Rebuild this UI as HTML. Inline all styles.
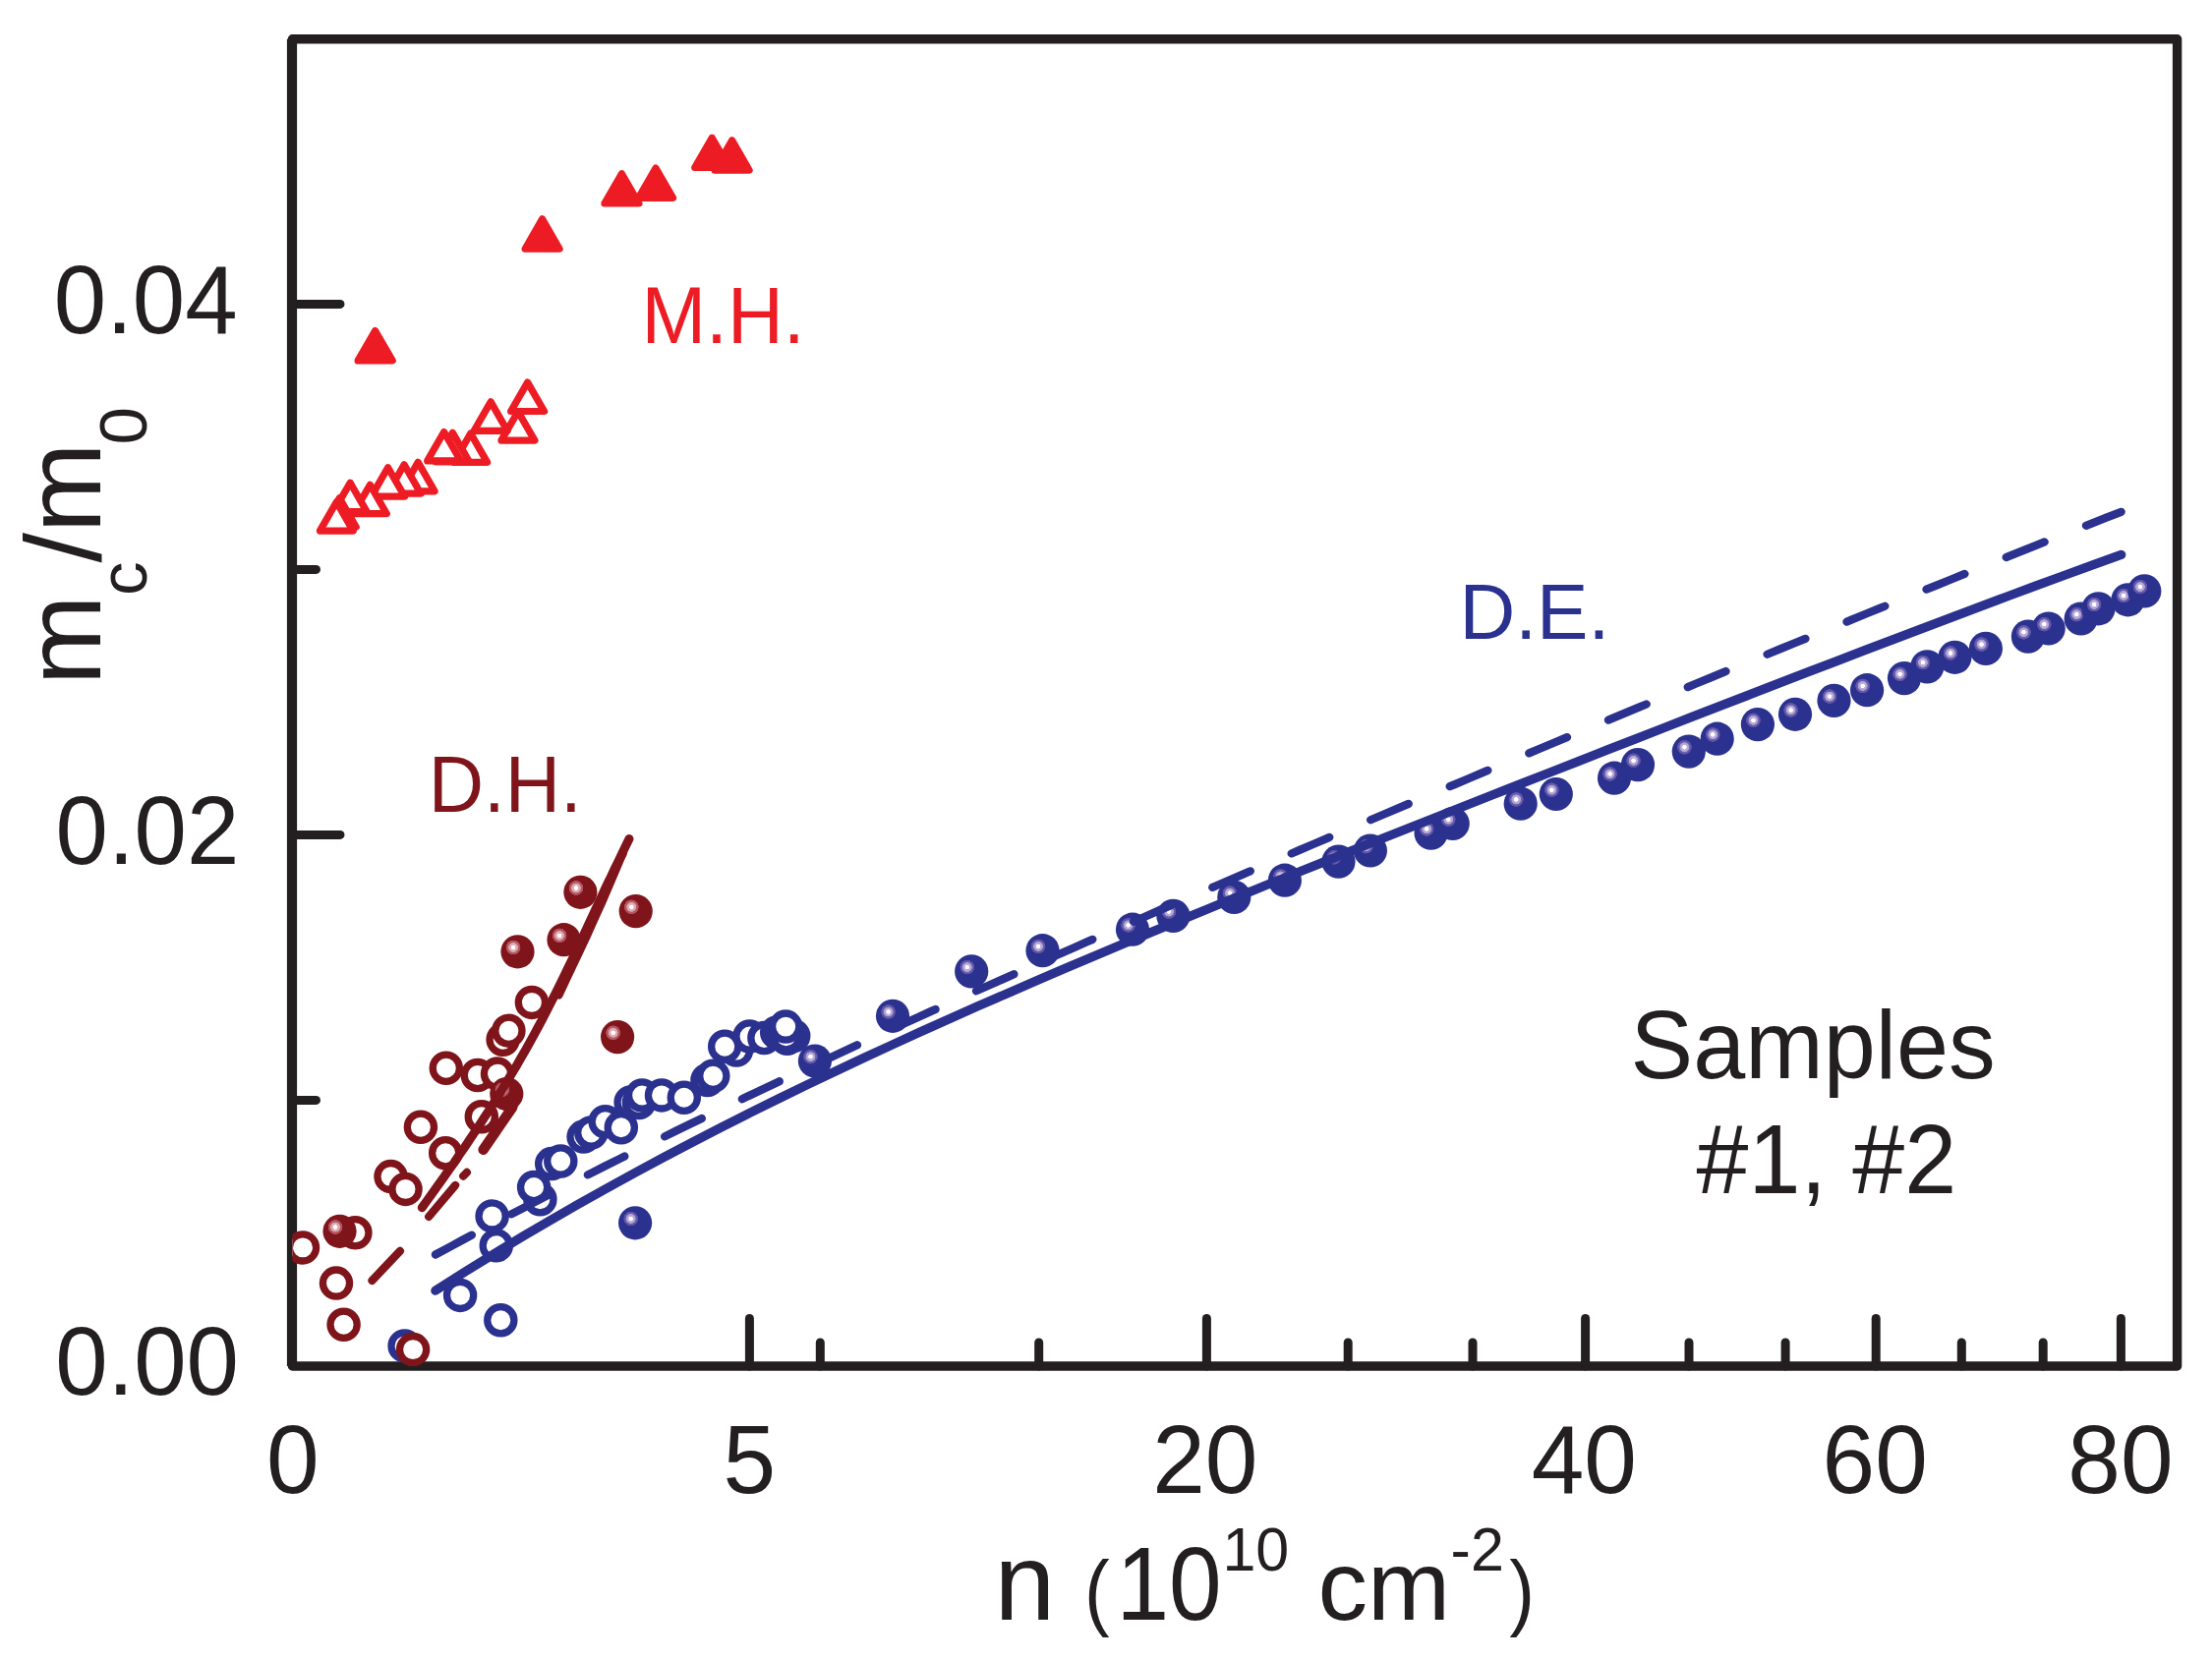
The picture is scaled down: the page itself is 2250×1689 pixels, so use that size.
<!DOCTYPE html>
<html><head><meta charset="utf-8"><title>Cyclotron mass vs density</title>
<style>html,body{margin:0;padding:0;background:#fff}svg{display:block}text{font-family:"Liberation Sans",sans-serif}</style></head><body>
<svg width="2250" height="1689" viewBox="0 0 2250 1689">
<defs>
<radialGradient id="gb" cx="0.371" cy="0.374" r="0.22" fx="0.371" fy="0.374"><stop offset="0" stop-color="#fff"/><stop offset="0.27" stop-color="#fff"/><stop offset="0.32" stop-color="#bfb3dc"/><stop offset="0.62" stop-color="#aa9dd0"/><stop offset="0.68" stop-color="#6e62b0"/><stop offset="0.95" stop-color="#5a50a4"/><stop offset="1" stop-color="#2b318e"/></radialGradient>
<radialGradient id="gr" cx="0.371" cy="0.374" r="0.22" fx="0.371" fy="0.374"><stop offset="0" stop-color="#fff"/><stop offset="0.27" stop-color="#fff"/><stop offset="0.32" stop-color="#e3b7bd"/><stop offset="0.62" stop-color="#d9a0a8"/><stop offset="0.68" stop-color="#b85c68"/><stop offset="0.95" stop-color="#b04f5c"/><stop offset="1" stop-color="#7f151a"/></radialGradient>
<clipPath id="cp"><rect x="297.4" y="39.8" width="1917.2" height="1350.2"/></clipPath>
</defs>
<rect width="2250" height="1689" fill="#fff"/>
<rect x="297.4" y="39.8" width="1917.2" height="1350.2" fill="none" stroke="#231f20" stroke-width="9.4" stroke-linejoin="round"/>
<line x1="296.95" y1="39.8" x2="296.95" y2="1390.0" stroke="#231f20" stroke-width="10.1"/>
<g stroke="#231f20" stroke-width="9.0" stroke-linecap="round">
<line x1="297.4" y1="309.4" x2="346.0" y2="309.4"/>
<line x1="297.4" y1="849.4" x2="346.0" y2="849.4"/>
<line x1="297.4" y1="579.4" x2="321.5" y2="579.4"/>
<line x1="297.4" y1="1119.4" x2="321.5" y2="1119.4"/>
<line x1="762.4" y1="1390.0" x2="762.4" y2="1341.5"/>
<line x1="1227.4" y1="1390.0" x2="1227.4" y2="1341.5"/>
<line x1="1612.6" y1="1390.0" x2="1612.6" y2="1341.5"/>
<line x1="1908.2" y1="1390.0" x2="1908.2" y2="1341.5"/>
<line x1="2157.4" y1="1390.0" x2="2157.4" y2="1341.5"/>
<line x1="834.3" y1="1390.0" x2="834.3" y2="1366.0"/>
<line x1="1056.7" y1="1390.0" x2="1056.7" y2="1366.0"/>
<line x1="1371.2" y1="1390.0" x2="1371.2" y2="1366.0"/>
<line x1="1498.0" y1="1390.0" x2="1498.0" y2="1366.0"/>
<line x1="1718.0" y1="1390.0" x2="1718.0" y2="1366.0"/>
<line x1="1816.1" y1="1390.0" x2="1816.1" y2="1366.0"/>
<line x1="1995.3" y1="1390.0" x2="1995.3" y2="1366.0"/>
<line x1="2078.2" y1="1390.0" x2="2078.2" y2="1366.0"/>
</g>
<g clip-path="url(#cp)">
<g id="red-tri">
<path d="M381.6,336.6 L399.2,366.9 L364.1,366.9 Z" fill="#ed1c24" stroke="#ed1c24" stroke-width="7.2" stroke-linejoin="round"/>
<path d="M551.6,222.9 L569.1,253.2 L534.1,253.2 Z" fill="#ed1c24" stroke="#ed1c24" stroke-width="7.2" stroke-linejoin="round"/>
<path d="M632.4,176.7 L649.9,207.0 L614.9,207.0 Z" fill="#ed1c24" stroke="#ed1c24" stroke-width="7.2" stroke-linejoin="round"/>
<path d="M667.0,171.1 L684.5,201.4 L649.5,201.4 Z" fill="#ed1c24" stroke="#ed1c24" stroke-width="7.2" stroke-linejoin="round"/>
<path d="M724.2,140.2 L741.8,170.5 L706.7,170.5 Z" fill="#ed1c24" stroke="#ed1c24" stroke-width="7.2" stroke-linejoin="round"/>
<path d="M744.6,142.9 L762.1,173.2 L727.1,173.2 Z" fill="#ed1c24" stroke="#ed1c24" stroke-width="7.2" stroke-linejoin="round"/>
<path d="M536.6,389.1 L553.6,418.5 L519.6,418.5 Z" fill="#fff" stroke="#ed1c24" stroke-width="7.2" stroke-linejoin="round"/>
<path d="M526.9,418.7 L543.9,448.1 L509.9,448.1 Z" fill="#fff" stroke="#ed1c24" stroke-width="7.2" stroke-linejoin="round"/>
<path d="M499.2,408.9 L516.1,438.3 L482.2,438.3 Z" fill="#fff" stroke="#ed1c24" stroke-width="7.2" stroke-linejoin="round"/>
<path d="M478.7,441.0 L495.6,470.4 L461.8,470.4 Z" fill="#fff" stroke="#ed1c24" stroke-width="7.2" stroke-linejoin="round"/>
<path d="M460.4,440.4 L477.3,469.8 L443.4,469.8 Z" fill="#fff" stroke="#ed1c24" stroke-width="7.2" stroke-linejoin="round"/>
<path d="M451.6,439.5 L468.6,468.9 L434.7,468.9 Z" fill="#fff" stroke="#ed1c24" stroke-width="7.2" stroke-linejoin="round"/>
<path d="M425.2,470.4 L442.1,499.8 L408.2,499.8 Z" fill="#fff" stroke="#ed1c24" stroke-width="7.2" stroke-linejoin="round"/>
<path d="M411.1,472.8 L428.1,502.2 L394.2,502.2 Z" fill="#fff" stroke="#ed1c24" stroke-width="7.2" stroke-linejoin="round"/>
<path d="M394.6,475.7 L411.6,505.1 L377.7,505.1 Z" fill="#fff" stroke="#ed1c24" stroke-width="7.2" stroke-linejoin="round"/>
<path d="M376.4,493.3 L393.3,522.7 L359.4,522.7 Z" fill="#fff" stroke="#ed1c24" stroke-width="7.2" stroke-linejoin="round"/>
<path d="M356.2,491.2 L373.1,520.6 L339.2,520.6 Z" fill="#fff" stroke="#ed1c24" stroke-width="7.2" stroke-linejoin="round"/>
<path d="M345.3,506.8 L362.2,536.2 L328.4,536.2 Z" fill="#fff" stroke="#ed1c24" stroke-width="7.2" stroke-linejoin="round"/>
<path d="M342.3,510.7 L359.2,540.1 L325.4,540.1 Z" fill="#fff" stroke="#ed1c24" stroke-width="7.2" stroke-linejoin="round"/>
</g>
<g id="blue-pts">
<circle cx="411.6" cy="1369.4" r="13.6" fill="#fff" stroke="#2b318e" stroke-width="7.3"/>
<circle cx="468.1" cy="1317.9" r="13.6" fill="#fff" stroke="#2b318e" stroke-width="7.3"/>
<circle cx="509.3" cy="1343.2" r="13.6" fill="#fff" stroke="#2b318e" stroke-width="7.3"/>
<circle cx="504.8" cy="1267.3" r="13.6" fill="#fff" stroke="#2b318e" stroke-width="7.3"/>
<circle cx="500.6" cy="1237.4" r="13.6" fill="#fff" stroke="#2b318e" stroke-width="7.3"/>
<circle cx="549.4" cy="1220.3" r="13.6" fill="#fff" stroke="#2b318e" stroke-width="7.3"/>
<circle cx="543.1" cy="1208.0" r="13.6" fill="#fff" stroke="#2b318e" stroke-width="7.3"/>
<circle cx="561.2" cy="1184.1" r="13.6" fill="#fff" stroke="#2b318e" stroke-width="7.3"/>
<circle cx="570.3" cy="1181.5" r="13.6" fill="#fff" stroke="#2b318e" stroke-width="7.3"/>
<circle cx="593.6" cy="1156.6" r="13.6" fill="#fff" stroke="#2b318e" stroke-width="7.3"/>
<circle cx="601.3" cy="1152.5" r="13.6" fill="#fff" stroke="#2b318e" stroke-width="7.3"/>
<circle cx="615.7" cy="1141.2" r="13.6" fill="#fff" stroke="#2b318e" stroke-width="7.3"/>
<circle cx="631.8" cy="1147.3" r="13.6" fill="#fff" stroke="#2b318e" stroke-width="7.3"/>
<circle cx="641.6" cy="1121.4" r="13.6" fill="#fff" stroke="#2b318e" stroke-width="7.3"/>
<circle cx="649.9" cy="1122.0" r="13.6" fill="#fff" stroke="#2b318e" stroke-width="7.3"/>
<circle cx="653.1" cy="1114.5" r="13.6" fill="#fff" stroke="#2b318e" stroke-width="7.3"/>
<circle cx="673.0" cy="1114.4" r="13.6" fill="#fff" stroke="#2b318e" stroke-width="7.3"/>
<circle cx="695.8" cy="1116.8" r="13.6" fill="#fff" stroke="#2b318e" stroke-width="7.3"/>
<circle cx="719.5" cy="1099.0" r="13.6" fill="#fff" stroke="#2b318e" stroke-width="7.3"/>
<circle cx="725.3" cy="1094.8" r="13.6" fill="#fff" stroke="#2b318e" stroke-width="7.3"/>
<circle cx="749.0" cy="1068.6" r="13.6" fill="#fff" stroke="#2b318e" stroke-width="7.3"/>
<circle cx="737.2" cy="1064.8" r="13.6" fill="#fff" stroke="#2b318e" stroke-width="7.3"/>
<circle cx="762.5" cy="1054.5" r="13.6" fill="#fff" stroke="#2b318e" stroke-width="7.3"/>
<circle cx="777.4" cy="1056.0" r="13.6" fill="#fff" stroke="#2b318e" stroke-width="7.3"/>
<circle cx="790.2" cy="1050.5" r="13.6" fill="#fff" stroke="#2b318e" stroke-width="7.3"/>
<circle cx="800.7" cy="1056.7" r="13.6" fill="#fff" stroke="#2b318e" stroke-width="7.3"/>
<circle cx="807.2" cy="1054.0" r="13.6" fill="#fff" stroke="#2b318e" stroke-width="7.3"/>
<circle cx="796.3" cy="1050.5" r="13.6" fill="#fff" stroke="#2b318e" stroke-width="7.3"/>
<circle cx="802.9" cy="1054.9" r="13.6" fill="#fff" stroke="#2b318e" stroke-width="7.3"/>
<circle cx="799.6" cy="1054.3" r="13.6" fill="#fff" stroke="#2b318e" stroke-width="7.3"/>
<circle cx="799.2" cy="1044.6" r="13.6" fill="#fff" stroke="#2b318e" stroke-width="7.3"/>
<circle cx="646.1" cy="1244.3" r="17.1" fill="url(#gb)"/>
<circle cx="828.9" cy="1079.5" r="17.1" fill="url(#gb)"/>
<circle cx="908.0" cy="1033.8" r="17.1" fill="url(#gb)"/>
<circle cx="988.2" cy="988.4" r="17.1" fill="url(#gb)"/>
<circle cx="1060.5" cy="967.2" r="17.1" fill="url(#gb)"/>
<circle cx="1152.0" cy="945.7" r="17.1" fill="url(#gb)"/>
<circle cx="1193.4" cy="931.9" r="17.1" fill="url(#gb)"/>
<circle cx="1255.3" cy="912.9" r="17.1" fill="url(#gb)"/>
<circle cx="1306.9" cy="895.7" r="17.1" fill="url(#gb)"/>
<circle cx="1361.5" cy="876.6" r="17.1" fill="url(#gb)"/>
<circle cx="1393.9" cy="865.5" r="17.1" fill="url(#gb)"/>
<circle cx="1455.6" cy="847.7" r="17.1" fill="url(#gb)"/>
<circle cx="1477.7" cy="838.0" r="17.1" fill="url(#gb)"/>
<circle cx="1546.7" cy="817.7" r="17.1" fill="url(#gb)"/>
<circle cx="1582.8" cy="808.0" r="17.1" fill="url(#gb)"/>
<circle cx="1642.0" cy="791.7" r="17.1" fill="url(#gb)"/>
<circle cx="1666.0" cy="778.1" r="17.1" fill="url(#gb)"/>
<circle cx="1717.8" cy="764.6" r="17.1" fill="url(#gb)"/>
<circle cx="1746.7" cy="751.7" r="17.1" fill="url(#gb)"/>
<circle cx="1787.9" cy="737.1" r="17.1" fill="url(#gb)"/>
<circle cx="1826.0" cy="726.8" r="17.1" fill="url(#gb)"/>
<circle cx="1865.5" cy="712.9" r="17.1" fill="url(#gb)"/>
<circle cx="1899.1" cy="702.2" r="17.1" fill="url(#gb)"/>
<circle cx="1937.0" cy="690.1" r="17.1" fill="url(#gb)"/>
<circle cx="1960.3" cy="678.4" r="17.1" fill="url(#gb)"/>
<circle cx="1988.4" cy="668.8" r="17.1" fill="url(#gb)"/>
<circle cx="2019.9" cy="659.9" r="17.1" fill="url(#gb)"/>
<circle cx="2062.9" cy="647.6" r="17.1" fill="url(#gb)"/>
<circle cx="2083.7" cy="639.5" r="17.1" fill="url(#gb)"/>
<circle cx="2116.7" cy="629.5" r="17.1" fill="url(#gb)"/>
<circle cx="2134.5" cy="619.3" r="17.1" fill="url(#gb)"/>
<circle cx="2164.5" cy="610.3" r="17.1" fill="url(#gb)"/>
<circle cx="2181.3" cy="601.4" r="17.1" fill="url(#gb)"/>
</g>
<g id="dred-pts">
<circle cx="308.0" cy="1269.4" r="13.6" fill="#fff" stroke="#7f151a" stroke-width="7.3"/>
<circle cx="361.4" cy="1254.2" r="13.6" fill="#fff" stroke="#7f151a" stroke-width="7.3"/>
<circle cx="342.0" cy="1305.6" r="13.6" fill="#fff" stroke="#7f151a" stroke-width="7.3"/>
<circle cx="349.6" cy="1347.7" r="13.6" fill="#fff" stroke="#7f151a" stroke-width="7.3"/>
<circle cx="397.5" cy="1197.1" r="13.6" fill="#fff" stroke="#7f151a" stroke-width="7.3"/>
<circle cx="412.5" cy="1209.9" r="13.6" fill="#fff" stroke="#7f151a" stroke-width="7.3"/>
<circle cx="427.9" cy="1146.7" r="13.6" fill="#fff" stroke="#7f151a" stroke-width="7.3"/>
<circle cx="453.2" cy="1173.2" r="13.6" fill="#fff" stroke="#7f151a" stroke-width="7.3"/>
<circle cx="489.8" cy="1136.2" r="13.6" fill="#fff" stroke="#7f151a" stroke-width="7.3"/>
<circle cx="453.8" cy="1086.8" r="13.6" fill="#fff" stroke="#7f151a" stroke-width="7.3"/>
<circle cx="485.8" cy="1094.0" r="13.6" fill="#fff" stroke="#7f151a" stroke-width="7.3"/>
<circle cx="506.0" cy="1092.6" r="13.6" fill="#fff" stroke="#7f151a" stroke-width="7.3"/>
<circle cx="511.6" cy="1057.8" r="13.6" fill="#fff" stroke="#7f151a" stroke-width="7.3"/>
<circle cx="517.4" cy="1048.8" r="13.6" fill="#fff" stroke="#7f151a" stroke-width="7.3"/>
<circle cx="540.9" cy="1019.9" r="13.6" fill="#fff" stroke="#7f151a" stroke-width="7.3"/>
<circle cx="345.5" cy="1252.8" r="17.1" fill="url(#gr)"/>
<circle cx="515.3" cy="1113.0" r="17.1" fill="url(#gr)"/>
<circle cx="526.5" cy="968.3" r="17.1" fill="url(#gr)"/>
<circle cx="573.5" cy="956.2" r="17.1" fill="url(#gr)"/>
<circle cx="590.4" cy="907.8" r="17.1" fill="url(#gr)"/>
<circle cx="646.7" cy="927.1" r="17.1" fill="url(#gr)"/>
<circle cx="628.1" cy="1055.1" r="17.1" fill="url(#gr)"/>
<circle cx="420.1" cy="1373.1" r="13.6" fill="#fff" stroke="#7f151a" stroke-width="7.3"/>
</g>
<path d="M442.9,1313.2 L472.0,1294.7 L501.0,1276.7 L530.1,1259.1 L559.2,1242.0 L588.2,1225.3 L617.3,1209.0 L646.4,1193.0 L675.4,1177.4 L704.5,1162.1 L733.5,1147.1 L762.6,1132.4 L791.7,1118.0 L820.7,1103.9 L849.8,1090.0 L878.9,1076.3 L907.9,1062.9 L937.0,1049.6 L966.1,1036.5 L995.1,1023.6 L1024.2,1010.9 L1053.3,998.3 L1082.3,985.8 L1111.4,973.5 L1140.4,961.3 L1169.5,949.1 L1198.6,937.1 L1227.6,925.2 L1256.7,913.3 L1285.8,901.5 L1314.8,889.7 L1343.9,878.1 L1373.0,866.4 L1402.0,854.8 L1431.1,843.3 L1460.2,831.8 L1489.2,820.3 L1518.3,808.8 L1547.3,797.4 L1576.4,786.0 L1605.5,774.6 L1634.5,763.2 L1663.6,751.9 L1692.7,740.5 L1721.7,729.2 L1750.8,717.9 L1779.9,706.7 L1808.9,695.4 L1838.0,684.2 L1867.1,673.1 L1896.1,661.9 L1925.2,650.8 L1954.2,639.8 L1983.3,628.8 L2012.4,617.9 L2041.4,607.0 L2070.5,596.2 L2099.6,585.5 L2128.6,574.9 L2157.7,564.4" fill="none" stroke="#2b318e" stroke-width="9.3" stroke-linecap="round" stroke-linejoin="round"/>
<path d="M442.9,1276.5 L457.3,1268.8 L471.7,1261.0 L486.1,1253.3 L500.5,1245.7 L514.9,1238.1 L529.4,1230.6 L543.8,1223.1 L558.2,1215.6 L572.6,1208.2 L587.0,1200.9 L601.4,1193.6 L615.8,1186.3 L630.2,1179.1 L644.6,1171.9 L659.0,1164.8 L673.4,1157.7 L687.9,1150.6 L702.3,1143.6 L716.7,1136.6 L731.1,1129.6 L745.5,1122.7 L759.9,1115.8 L774.3,1109.0 L788.7,1102.2 L803.1,1095.4 L817.5,1088.6 L831.9,1081.9 L846.4,1075.2 L860.8,1068.5 L875.2,1061.8 L889.6,1055.2 L904.0,1048.6 L918.4,1042.0 L932.8,1035.4 L947.2,1028.9 L961.6,1022.4 L976.0,1015.9 L990.5,1009.4 L1004.9,1003.0 L1019.3,996.6 L1033.7,990.1 L1048.1,983.7 L1062.5,977.4 L1076.9,971.0 L1091.3,964.7 L1105.7,958.3 L1120.1,952.0 L1134.5,945.7 L1149.0,939.4 L1163.4,933.2 L1177.8,926.9 L1192.2,920.6 L1206.6,914.4 L1221.0,908.2 L1235.4,902.0 L1249.8,895.8 L1264.2,889.6 L1278.6,883.4 L1293.0,877.2 L1307.5,871.1 L1321.9,864.9 L1336.3,858.8 L1350.7,852.6 L1365.1,846.5 L1379.5,840.4 L1393.9,834.3 L1408.3,828.2 L1422.7,822.1 L1437.1,816.0 L1451.5,809.9 L1466.0,803.8 L1480.4,797.8 L1494.8,791.7 L1509.2,785.6 L1523.6,779.6 L1538.0,773.6 L1552.4,767.5 L1566.8,761.5 L1581.2,755.5 L1595.6,749.4 L1610.0,743.4 L1624.5,737.4 L1638.9,731.4 L1653.3,725.4 L1667.7,719.4 L1682.1,713.5 L1696.5,707.5 L1710.9,701.5 L1725.3,695.5 L1739.7,689.6 L1754.1,683.6 L1768.6,677.7 L1783.0,671.7 L1797.4,665.8 L1811.8,659.9 L1826.2,654.0 L1840.6,648.1 L1855.0,642.2 L1869.4,636.3 L1883.8,630.4 L1898.2,624.5 L1912.6,618.7 L1927.1,612.8 L1941.5,607.0 L1955.9,601.1 L1970.3,595.3 L1984.7,589.5 L1999.1,583.7 L2013.5,577.9 L2027.9,572.1 L2042.3,566.4 L2056.7,560.6 L2071.1,554.9 L2085.6,549.1 L2100.0,543.4 L2114.4,537.7 L2128.8,532.1 L2143.2,526.4 L2157.6,520.8" fill="none" stroke="#2b318e" stroke-width="8.3" stroke-linecap="round" stroke-dasharray="42.0 45.45"/>
<path d="M429.3,1228.7 L434.8,1221.0 L440.3,1213.4 L445.8,1205.7 L451.2,1198.1 L456.6,1190.4 L462.0,1182.8 L467.2,1175.1 L472.5,1167.5 L477.6,1159.8 L482.8,1152.1 L487.8,1144.5 L492.8,1136.8 L497.8,1129.2 L502.6,1121.5 L507.4,1113.9 L512.2,1106.2 L516.8,1098.6 L521.4,1090.9 L526.0,1083.3 L530.4,1075.6 L534.8,1067.9 L539.1,1060.3 L543.3,1052.6 L547.4,1045.0 L551.5,1037.3 L555.5,1029.7 L559.4,1022.0 L563.3,1014.4 L567.1,1006.7 L570.9,999.0 L574.6,991.4 L578.3,983.7 L582.0,976.1 L585.6,968.4 L589.2,960.8 L592.8,953.1 L596.4,945.5 L599.9,937.8 L603.5,930.2 L607.1,922.5 L610.7,914.8 L614.2,907.2 L617.8,899.5 L621.5,891.9 L625.1,884.2 L628.8,876.6 L632.5,868.9 L636.2,861.3 L640.0,853.6" fill="none" stroke="#7f151a" stroke-width="9" stroke-linecap="round" stroke-linejoin="round"/>
<path d="M378.5,1302.9 L406.9,1272.9" fill="none" stroke="#7f151a" stroke-width="8.2" stroke-linecap="round" stroke-linejoin="round"/>
<path d="M436.2,1237.8 L463.1,1206.0" fill="none" stroke="#7f151a" stroke-width="8.2" stroke-linecap="round" stroke-linejoin="round"/>
<path d="M471.2,1196.6 L474.9,1192.9" fill="none" stroke="#7f151a" stroke-width="8.2" stroke-linecap="round" stroke-linejoin="round"/>
<path d="M491.6,1169.8 L521.0,1127.0 L523.0,1120.0" fill="none" stroke="#7f151a" stroke-width="10.4" stroke-linecap="round" stroke-linejoin="round"/>
<path d="M568.6,1012.5 L578.2,992.0 L587.6,972.3 L596.2,954.0 L604.2,936.2 L612.4,918.0 L620.2,900.0 L626.4,885.5 L631.2,874.0 L634.0,868.0" fill="none" stroke="#7f151a" stroke-width="8.0" stroke-linecap="round" stroke-linejoin="round"/>
</g>
<g fill="#231f20" font-size="96">
<text transform="translate(241.6,338.8) scale(1,1.028)" text-anchor="end">0.04</text>
<text transform="translate(243.4,878.8) scale(1,1.028)" text-anchor="end">0.02</text>
<text transform="translate(243.0,1418.9) scale(1,1.028)" text-anchor="end">0.00</text>
<text transform="translate(297.9,1518.9) scale(1.005,1.03)" text-anchor="middle">0</text>
<text transform="translate(762.4,1518.9) scale(1.005,1.03)" text-anchor="middle">5</text>
<text transform="translate(1225.8,1518.9) scale(1.005,1.03)" text-anchor="middle">20</text>
<text transform="translate(1611.3,1518.9) scale(1.005,1.03)" text-anchor="middle">40</text>
<text transform="translate(1907.2,1518.9) scale(1.005,1.03)" text-anchor="middle">60</text>
<text transform="translate(2156.9,1518.9) scale(1.005,1.03)" text-anchor="middle">80</text>
</g>
<g fill="#231f20">
<text transform="translate(101.8,697) rotate(-90)" font-size="110">m</text>
<text transform="translate(149.2,606) rotate(-90)" font-size="69">c</text>
<text transform="translate(101.8,572.6) rotate(-90)" font-size="110">/m</text>
<text transform="translate(149.2,452.5) rotate(-90)" font-size="69">0</text>
</g>
<g fill="#231f20">
<text transform="translate(1011.5,1647.9) scale(1.0,1.0)" font-size="111">n</text>
<text transform="translate(1103.0,1647.7) scale(0.92,1.02)" font-size="84">(</text>
<text transform="translate(1135.4,1648.0) scale(0.955,1.05)" font-size="101">10</text>
<text transform="translate(1243.4,1597.9) scale(1.0,1.03)" font-size="61">10</text>
<text transform="translate(1340.5,1648.0) scale(1.0,1.0)" font-size="101">cm</text>
<text transform="translate(1475.6,1597.9) scale(1.0,1.03)" font-size="61">-2</text>
<text transform="translate(1535.3,1647.7) scale(0.92,1.02)" font-size="84">)</text>
</g>
<text transform="translate(652.5,349) scale(1.006,1.037)" font-size="78.3" fill="#ed1c24">M.H.</text>
<text transform="translate(435.8,826) scale(1.0,1.035)" font-size="78" fill="#7f151a">D.H.</text>
<text transform="translate(1484.5,650) scale(1.008,1.03)" font-size="78" fill="#2b318e">D.E.</text>
<text transform="translate(1658.6,1096.9) scale(1.004,1.04)" font-size="95" fill="#231f20">Samples</text>
<text transform="translate(1725.5,1214.1) scale(1.002,1.045)" font-size="95" fill="#231f20">#1, #2</text>
</svg></body></html>
